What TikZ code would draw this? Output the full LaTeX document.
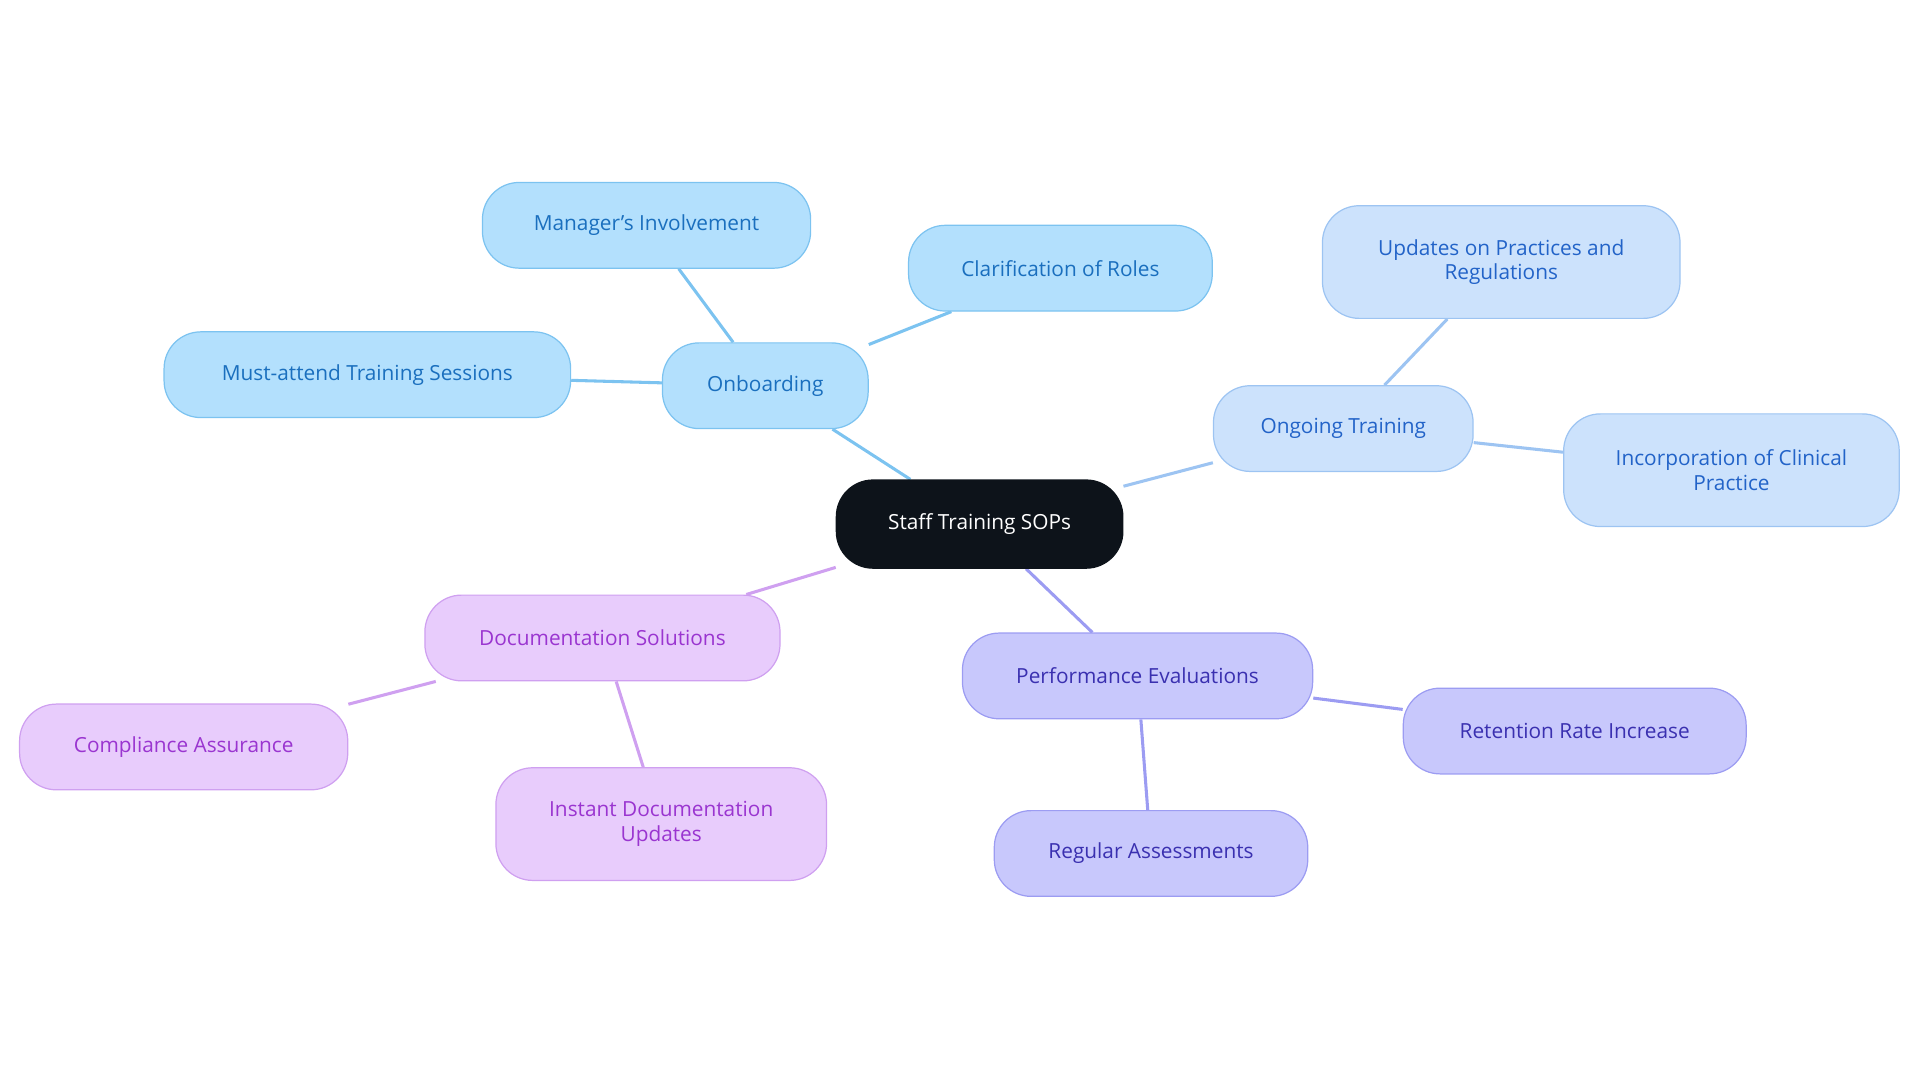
\documentclass[tikz,border=0pt]{standalone}
\usepackage{fontspec}
\setmainfont{Open Sans}
\usetikzlibrary{backgrounds}
\definecolor{cdark}{HTML}{0D131A}
\definecolor{bfill}{HTML}{B3E0FD}\definecolor{bline}{HTML}{7CC3F0}\definecolor{btext}{HTML}{1A6FBE}
\definecolor{lfill}{HTML}{CCE2FC}\definecolor{lline}{HTML}{9DC4F2}\definecolor{ltext}{HTML}{2263C8}
\definecolor{pfill}{HTML}{C8C8FC}\definecolor{pline}{HTML}{9C9CF2}\definecolor{ptext}{HTML}{3A30B0}
\definecolor{vfill}{HTML}{E8CCFC}\definecolor{vline}{HTML}{CFA0F0}\definecolor{vtext}{HTML}{9A35D0}
\tikzset{
 x=1pt,y=-1pt,
 box/.style={rounded corners=30pt,draw,line width=1pt,minimum height=70pt,font=\fontsize{17}{20}\selectfont,align=center,inner sep=0pt},
 root/.style={box,fill=cdark,draw=cdark,text=white},
 bb/.style={box,fill=bfill,draw=bline,text=btext},
 lb/.style={box,fill=lfill,draw=lline,text=ltext},
 pb/.style={box,fill=pfill,draw=pline,text=ptext},
 vb/.style={box,fill=vfill,draw=vline,text=vtext},
 tall/.style={minimum height=92pt},
 edge/.style={line width=2.5pt}
}
\begin{document}
\begin{tikzpicture}
\useasboundingbox (0,0) rectangle (1568,884);
\node[root,minimum width=234pt,minimum height=72pt] (r) at (800,428) {Staff Training SOPs};
\node[bb,minimum width=168pt] (on) at (625,315) {Onboarding};
\node[bb,minimum width=268pt] (mi) at (528,184) {Manager's Involvement};
\node[bb,minimum width=248pt] (cr) at (866,219) {Clarification of Roles};
\node[bb,minimum width=332pt] (ma) at (300,306) {Must-attend Training Sessions};
\node[lb,minimum width=212pt] (ot) at (1097,350) {Ongoing Training};
\node[lb,tall,minimum width=292pt] (up) at (1226,214) {Updates on Practices and\\Regulations};
\node[lb,tall,minimum width=274pt] (ic) at (1414,384) {Incorporation of Clinical\\Practice};
\node[pb,minimum width=286pt] (pe) at (929,552) {Performance Evaluations};
\node[pb,minimum width=280pt] (rr) at (1286,597) {Retention Rate Increase};
\node[pb,minimum width=256pt] (ra) at (940,697) {Regular Assessments};
\node[vb,minimum width=290pt] (ds) at (492,521) {Documentation Solutions};
\node[vb,minimum width=268pt] (ca) at (150,610) {Compliance Assurance};
\node[vb,tall,minimum width=270pt] (id) at (540,673) {Instant Documentation\\Updates};
\begin{scope}[on background layer]
\draw[edge,bline] (r)--(on) (on)--(mi) (on)--(cr) (on)--(ma);
\draw[edge,lline] (r)--(ot) (ot)--(up) (ot)--(ic);
\draw[edge,pline] (r)--(pe) (pe)--(rr) (pe)--(ra);
\draw[edge,vline] (r)--(ds) (ds)--(ca) (ds)--(id);
\end{scope}
\end{tikzpicture}
\end{document}
